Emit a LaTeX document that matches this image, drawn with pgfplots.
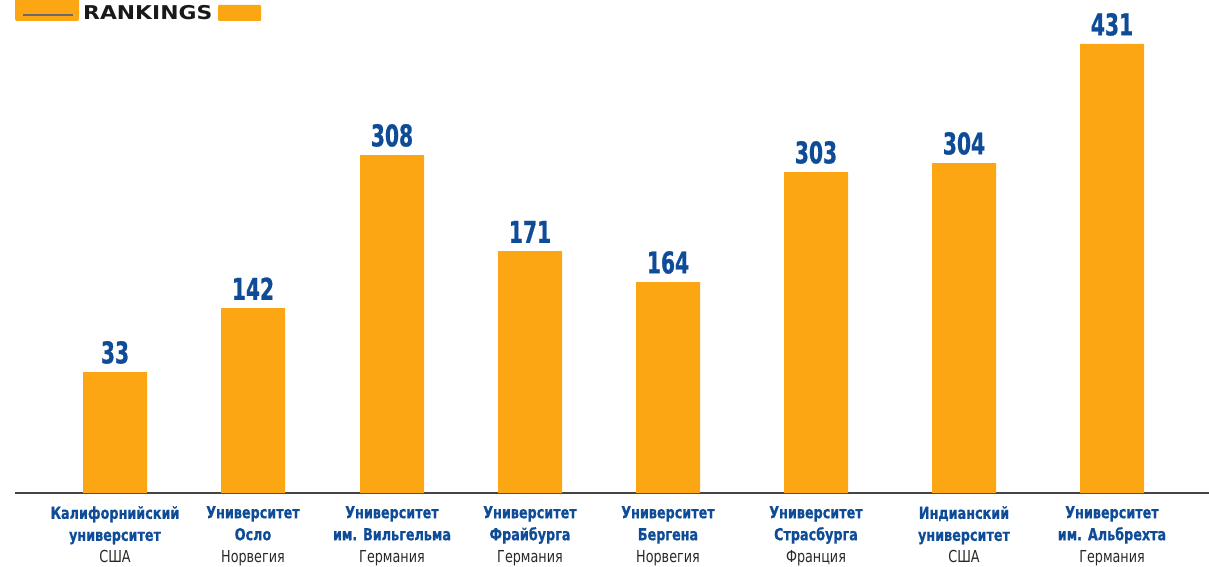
\documentclass[border=0pt]{standalone}
\usepackage{fontspec}
\setmainfont{DejaVu Sans Condensed}
\newfontfamily\numfont[FakeStretch=0.75, BoldFeatures={FakeBold=0.8}]{DejaVu Sans Condensed}
\newfontfamily\labfont[FakeStretch=0.86, BoldFeatures={FakeBold=0.6}]{DejaVu Sans Condensed}
\newfontfamily\ctryfont[FakeStretch=0.86]{DejaVu Sans Condensed}
\newfontfamily\logofont[FakeStretch=1.15]{DejaVu Sans}
\usepackage{pgfplots}
\usepackage{pgfplotstable}
\pgfplotsset{compat=1.18}
\definecolor{barorange}{RGB}{253,166,20}
\definecolor{labblue}{RGB}{14,76,152}
\definecolor{axgray}{RGB}{68,68,68}
\definecolor{ctry}{RGB}{40,40,40}
\pgfplotstableread{
x y label
115 121 33
253 185 142
392 338 308
530 242 171
668 211 164
816 321 303
964 330 304
1112 449 431
}\ranktable
\newcommand{\uni}[3]{\textbf{#1}\\\textbf{#2}\\{\ctryfont\color{ctry}#3}}
\begin{document}
\begin{tikzpicture}[x=1pt,y=1pt]
\useasboundingbox (0,0) rectangle (1209,566);
% logo fragment
\fill[barorange, rounded corners=2pt] (15,545) rectangle (79,570);
\draw[axgray!80, line width=1.5pt] (23,551) -- (73,551);
\fill[barorange, rounded corners=1pt] (218,545) rectangle (261,561);
\node[anchor=base west, inner sep=0pt, font=\logofont\bfseries\fontsize{19}{19}\selectfont, text=black!90] at (83,546) {RANKINGS};
\begin{axis}[
  at={(15pt,73pt)}, anchor=south west,
  scale only axis, width=1194pt, height=493pt,
  xmin=15, xmax=1209, ymin=0, ymax=493,
  axis x line=bottom, axis y line=none,
  axis line style={-, axgray, line width=1.6pt},
  ybar, bar width=64pt, bar shift=0pt,
  xtick=data, major tick length=0pt,
  xticklabels={
    {\uni{Калифорнийский}{университет}{США}},
    {\uni{Университет}{Осло}{Норвегия}},
    {\uni{Университет}{им. Вильгельма}{Германия}},
    {\uni{Университет}{Фрайбурга}{Германия}},
    {\uni{Университет}{Бергена}{Норвегия}},
    {\uni{Университет}{Страсбурга}{Франция}},
    {\uni{Индианский}{университет}{США}},
    {\uni{Университет}{им. Альбрехта}{Германия}}},
  xticklabel style={align=center, inner sep=0pt, yshift=-13pt, text=labblue,
    font=\labfont\fontsize{16.5}{22}\selectfont},
  point meta=explicit symbolic,
  nodes near coords,
  every node near coord/.append style={anchor=south, inner sep=0pt, yshift=8pt,
    text=labblue, font=\numfont\bfseries\fontsize{30}{30}\selectfont},
  clip=false,
]
\addplot[fill=barorange, draw=none] table[x=x, y=y, meta=label] {\ranktable};
\end{axis}
\end{tikzpicture}
\end{document}
